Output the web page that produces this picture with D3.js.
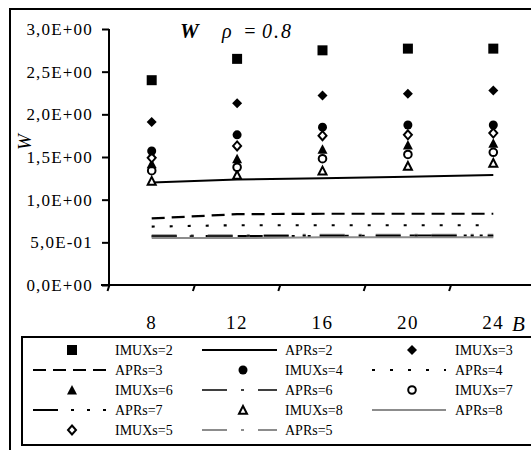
<!DOCTYPE html>
<html><head><meta charset="utf-8">
<script src="https://cdn.jsdelivr.net/npm/d3@7"></script>
<style>body{margin:0;background:#fff}svg{display:block}svg text{font-family:"Liberation Serif","Times New Roman","DejaVu Serif",serif !important}</style>
</head><body><svg id="c" width="531" height="450"></svg>
<script>
const categories = ["8","12","16","20","24"];
const yTicks = [0,0.5,1.0,1.5,2.0,2.5,3.0];
const yTickLabels = ["0,0E+00","5,0E-01","1,0E+00","1,5E+00","2,0E+00","2,5E+00","3,0E+00"];
const IMUX2 = [2.40,2.65,2.75,2.77,2.77];
const IMUX3 = [1.91,2.13,2.22,2.24,2.28];
const IMUX4 = [1.57,1.76,1.85,1.875,1.875];
const IMUX5 = [1.49,1.63,1.75,1.76,1.78];
const IMUX6 = [1.42,1.48,1.59,1.64,1.66];
const IMUX7 = [1.34,1.38,1.48,1.53,1.555];
const IMUX8 = [1.22,1.29,1.34,1.395,1.43];
const APR2 = [1.20,1.235,1.25,1.27,1.29];
const APR3 = [0.78,0.83,0.835,0.835,0.835];
const APR4 = [0.685,0.70,0.70,0.70,0.70];
const APR5 = [0.575,0.575,0.58,0.58,0.58];
const APR6 = [0.575,0.575,0.58,0.58,0.58];
const APR7 = [0.57,0.575,0.575,0.58,0.58];
const APR8 = [0.55,0.55,0.56,0.56,0.56];

const svg = d3.select("#c");
svg.append("rect").attr("x",10).attr("y",9).attr("width",540).attr("height",460)
  .attr("fill","none").attr("stroke","#000").attr("stroke-width",2);

const x = d3.scaleBand().domain(categories).range([109,536]);
const y = d3.scaleLinear().domain([0,3]).range([285,29]);

const ya = svg.append("g").attr("transform","translate(109,0)")
  .call(d3.axisLeft(y).tickValues(yTicks).tickSize(7).tickPadding(9)
    .tickFormat((d,i)=>yTickLabels[i]));
ya.attr("font-family",null).attr("font-size",null);
ya.select(".domain").attr("stroke-width",2).attr("d","M0,29V285");
ya.selectAll(".tick line").attr("stroke-width",2);
ya.selectAll("text").attr("font-size",17).attr("fill","#000").attr("letter-spacing",1.2);

const xa = svg.append("g").attr("transform","translate(0,285)")
  .call(d3.axisBottom(x).tickSize(0).tickPadding(31));
xa.attr("font-family",null).attr("font-size",null);
xa.select(".domain").attr("stroke-width",2).attr("d","M101,0H531");
xa.selectAll("text").attr("font-size",19).attr("fill","#000").attr("letter-spacing",1.5);
const bounds = categories.map(c=>x(c));
svg.append("g").selectAll("line").data(bounds).join("line")
  .attr("x1",d=>d-1.5).attr("y1",291).attr("x2",d=>d+0.5).attr("y2",285)
  .attr("stroke","#000").attr("stroke-width",2);

svg.append("text").attr("x",512).attr("y",331).attr("font-size",21).attr("font-style","italic").text("B");
svg.append("text").attr("transform","translate(31,142) rotate(-90)").attr("text-anchor","middle")
  .attr("font-size",19).attr("font-style","italic").text("W");
svg.append("text").attr("x",180).attr("y",38).attr("font-size",21).attr("font-style","italic").attr("font-weight","bold").text("W");
svg.append("text").attr("x",222).attr("y",38).attr("font-size",20).attr("font-style","italic").text("ρ");
svg.append("text").attr("x",243).attr("y",38).attr("font-size",20).attr("font-style","italic").text("=");
svg.append("text").attr("x",262).attr("y",38).attr("font-size",20).attr("font-style","italic").attr("letter-spacing",2).text("0.8");

const cx = c => x(c) + x.bandwidth()/2;

const lineSeries = [
  {name:"APRs=2", data:APR2, color:"#000", dash:null, w:2},
  {name:"APRs=3", data:APR3, color:"#000", dash:"13,7", w:2.2},
  {name:"APRs=4", data:APR4, color:"#000", dash:"3,15", w:2.2},
  {name:"APRs=7", data:APR7, color:"#000", dash:"25,13,3,13,3,13,3,13", w:2},
  {name:"APRs=8", data:APR8, color:"#8c8c8c", dash:null, w:2},
  {name:"APRs=5", data:APR5, color:"#8c8c8c", dash:"25,14,3,14", w:3.5},
  {name:"APRs=6", data:APR6, color:"#000", dash:"25,14,3,14", w:1.5}
];
const line = d3.line().x((d,i)=>cx(categories[i])).y(d=>y(d));
lineSeries.forEach(s=>{
  svg.append("path").attr("d",line(s.data)).attr("fill","none")
    .attr("stroke",s.color).attr("stroke-width",s.w)
    .attr("stroke-dasharray",s.dash);
});

function shape(type){
  switch(type){
    case "square": return "M-5,-5H5V5H-5Z";
    case "diamond": return "M0,-5L5,0L0,5L-5,0Z";
    case "odiamond": return "M0,-4.5L4,0L0,4.5L-4,0Z";
    case "circle": return "M-4.5,0A4.5,4.5 0 1,0 4.5,0A4.5,4.5 0 1,0 -4.5,0Z";
    case "ocircle": return "M-3.8,0A3.8,3.8 0 1,0 3.8,0A3.8,3.8 0 1,0 -3.8,0Z";
    case "triangle": return "M0,-5L5,4.5H-5Z";
    case "otriangle": return "M0,-4L4,3.8H-4Z";
  }
}
const markerSeries = [
  {name:"IMUXs=2", data:IMUX2, type:"square", fill:true},
  {name:"IMUXs=3", data:IMUX3, type:"diamond", fill:true},
  {name:"IMUXs=4", data:IMUX4, type:"circle", fill:true},
  {name:"IMUXs=5", data:IMUX5, type:"odiamond", fill:false},
  {name:"IMUXs=6", data:IMUX6, type:"triangle", fill:true},
  {name:"IMUXs=7", data:IMUX7, type:"ocircle", fill:false},
  {name:"IMUXs=8", data:IMUX8, type:"otriangle", fill:false}
];
markerSeries.slice().reverse().forEach(s=>{
  svg.append("g").selectAll("path").data(s.data).join("path")
    .attr("transform",(d,i)=>`translate(${cx(categories[i])},${y(d)})`)
    .attr("d",shape(s.type))
    .attr("fill",s.fill?"#000":"#fff").attr("stroke","#000").attr("stroke-width",s.fill?0:2);
});

const legendOrder = ["IMUXs=2","APRs=2","IMUXs=3","APRs=3","IMUXs=4","APRs=4","IMUXs=6","APRs=6","IMUXs=7","APRs=7","IMUXs=8","APRs=8","IMUXs=5","APRs=5"];
svg.append("rect").attr("x",22).attr("y",337).attr("width",530).attr("height",108)
  .attr("fill","none").attr("stroke","#000").attr("stroke-width",2);
const colSym = [72,243,412], colLine=[[33,110],[202,277],[372,446]], colText=[115,285,455];
legendOrder.forEach((name,k)=>{
  const col = k%3, row = Math.floor(k/3);
  const ly = 350 + row*20;
  const g = svg.append("g");
  const m = markerSeries.find(s=>s.name===name);
  if(m){
    g.append("path").attr("transform",`translate(${colSym[col]},${ly})`).attr("d",shape(m.type))
      .attr("fill",m.fill?"#000":"#fff").attr("stroke","#000").attr("stroke-width",m.fill?0:2);
  } else {
    const s = lineSeries.find(s=>s.name===name);
    const lw = name==="APRs=5" ? 2 : s.w;
    g.append("line").attr("x1",colLine[col][0]).attr("x2",colLine[col][1]).attr("y1",ly).attr("y2",ly)
      .attr("stroke",s.color).attr("stroke-width",lw).attr("stroke-dasharray",s.dash);
  }
  g.append("text").attr("x",colText[col]).attr("y",ly+5).attr("font-size",14).text(name);
});
</script></body></html>
